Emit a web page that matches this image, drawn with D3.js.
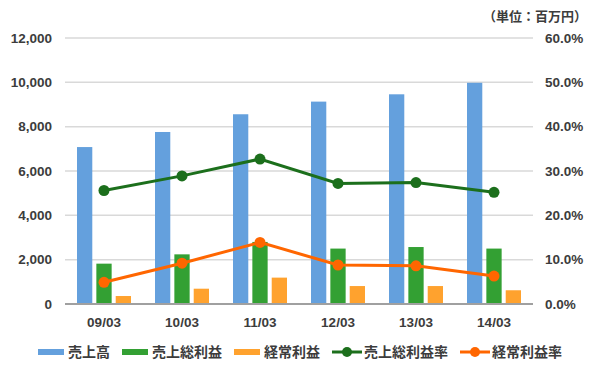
<!DOCTYPE html>
<html lang="ja">
<head>
    <meta charset="UTF-8">
    <title>売上高・利益推移</title>
    <script src="https://d3js.org/d3.v7.min.js"></script>
    <style>
        body {
            margin: 0;
            background: #fff;
        }

        svg text {
            font-family: "Liberation Sans", Arial, "Noto Sans CJK JP", sans-serif;
            font-weight: bold;
            fill: #3c3c3c;
        }

        .jp {
            font-family: "Noto Sans CJK JP", sans-serif;
        }
    </style>
</head>
<body>
    <svg id="chart" width="595" height="374"></svg>
    <script>
        // data (百万円 / %)
        const periods = ['09/03', '10/03', '11/03', '12/03', '13/03', '14/03'];
        const sales = [7080, 7760, 8560, 9130, 9460, 9980];
        const grossProfit = [1820, 2240, 2800, 2500, 2570, 2500];
        const ordinaryProfit = [360, 690, 1190, 810, 810, 620];
        const grossMargin = [25.6, 28.9, 32.7, 27.2, 27.4, 25.2];
        const ordinaryMargin = [4.9, 9.2, 13.9, 8.8, 8.6, 6.3];

        const leftTicks = [0, 2000, 4000, 6000, 8000, 10000, 12000];
        const rightTicks = [0, 10, 20, 30, 40, 50, 60];

        const barSeries = [
            { name: '売上高', values: sales, color: '#64a0dd' },
            { name: '売上総利益', values: grossProfit, color: '#33a033' },
            { name: '経常利益', values: ordinaryProfit, color: '#ffa22e' }
        ];
        const lineSeries = [
            { name: '売上総利益率', values: grossMargin, color: '#1c6f1c' },
            { name: '経常利益率', values: ordinaryMargin, color: '#ff6600' }
        ];

        const plot = { left: 65, right: 533, top: 38, bottom: 304 };
        const svg = d3.select('#chart');

        const x = d3.scaleBand()
            .domain(periods)
            .range([plot.left, plot.right]);

        const xSub = d3.scaleBand()
            .domain(barSeries.map(s => s.name))
            .range([-27, 27])
            .paddingInner(0.21);

        const yLeft = d3.scaleLinear()
            .domain([0, 12000])
            .range([plot.bottom, plot.top]);

        const yRight = d3.scaleLinear()
            .domain([0, 60])
            .range([plot.bottom, plot.top]);

        // grid lines
        svg.append('g')
            .selectAll('line')
            .data(leftTicks.slice(1))
            .enter().append('line')
            .attr('x1', plot.left)
            .attr('x2', plot.right)
            .attr('y1', d => yLeft(d))
            .attr('y2', d => yLeft(d))
            .attr('stroke', '#d9d9d9')
            .attr('stroke-width', 1.5);

        // left axis
        const leftAxis = svg.append('g')
            .attr('transform', `translate(${plot.left},0)`)
            .call(d3.axisLeft(yLeft).tickValues(leftTicks).tickSize(0).tickPadding(13).tickFormat(d3.format(',')));
        leftAxis.select('.domain').remove();
        leftAxis.selectAll('text').style('font-size', '13.5px');

        // right axis
        const rightAxis = svg.append('g')
            .attr('transform', `translate(${plot.right},0)`)
            .call(d3.axisRight(yRight).tickValues(rightTicks).tickSize(0).tickPadding(12).tickFormat(d => d.toFixed(1) + '%'));
        rightAxis.select('.domain').remove();
        rightAxis.selectAll('text').style('font-size', '13.5px');

        // bars
        barSeries.forEach(s => {
            svg.append('g')
                .selectAll('rect')
                .data(s.values)
                .enter().append('rect')
                .attr('x', (d, i) => x(periods[i]) + x.bandwidth() / 2 + xSub(s.name))
                .attr('width', xSub.bandwidth())
                .attr('y', d => yLeft(d))
                .attr('height', d => plot.bottom - yLeft(d))
                .attr('fill', s.color);
        });

        // baseline
        svg.append('line')
            .attr('x1', plot.left)
            .attr('x2', plot.right)
            .attr('y1', plot.bottom)
            .attr('y2', plot.bottom)
            .attr('stroke', '#a0a0a0')
            .attr('stroke-width', 2);

        // x labels
        const bottomAxis = svg.append('g')
            .attr('transform', `translate(0,${plot.bottom})`)
            .call(d3.axisBottom(x).tickSize(0).tickPadding(13));
        bottomAxis.select('.domain').remove();
        bottomAxis.selectAll('text').style('font-size', '13.5px');

        // lines
        const line = d3.line()
            .x((d, i) => x(periods[i]) + x.bandwidth() / 2)
            .y(d => yRight(d));

        lineSeries.forEach(s => {
            svg.append('path')
                .datum(s.values)
                .attr('fill', 'none')
                .attr('stroke', s.color)
                .attr('stroke-width', 3)
                .attr('d', line);

            svg.append('g')
                .selectAll('circle')
                .data(s.values)
                .enter().append('circle')
                .attr('cx', (d, i) => x(periods[i]) + x.bandwidth() / 2)
                .attr('cy', d => yRight(d))
                .attr('r', 5.5)
                .attr('fill', s.color);
        });

        // unit label
        svg.append('text')
            .attr('class', 'jp')
            .attr('x', 587)
            .attr('y', 21)
            .attr('text-anchor', 'end')
            .style('font-size', '13px')
            .text('（単位：百万円）');

        // legend
        const legend = svg.append('g').attr('transform', 'translate(0,352)');
        let cursor = 0;
        const items = barSeries.map(s => ({ ...s, type: 'bar' }))
            .concat(lineSeries.map(s => ({ ...s, type: 'line' })));

        items.forEach(item => {
            const g = legend.append('g').attr('transform', `translate(${cursor},0)`);
            if (item.type === 'bar') {
                g.append('rect')
                    .attr('x', 0).attr('y', -3)
                    .attr('width', 26).attr('height', 6)
                    .attr('fill', item.color);
            } else {
                g.append('line')
                    .attr('x1', 0).attr('x2', 30)
                    .attr('y1', 0).attr('y2', 0)
                    .attr('stroke', item.color)
                    .attr('stroke-width', 3);
                g.append('circle')
                    .attr('cx', 15).attr('cy', 0).attr('r', 5)
                    .attr('fill', item.color);
            }
            const offset = item.type === 'bar' ? 30 : 32;
            const t = g.append('text')
                .attr('class', 'jp')
                .attr('x', offset)
                .attr('dy', '0.35em')
                .style('font-size', '14px')
                .text(item.name);
            cursor += offset + t.node().getComputedTextLength() + 12;
        });
        const total = cursor - 12;
        legend.attr('transform', `translate(${(42 + 558) / 2 - total / 2},352)`);
    </script>
</body>
</html>
